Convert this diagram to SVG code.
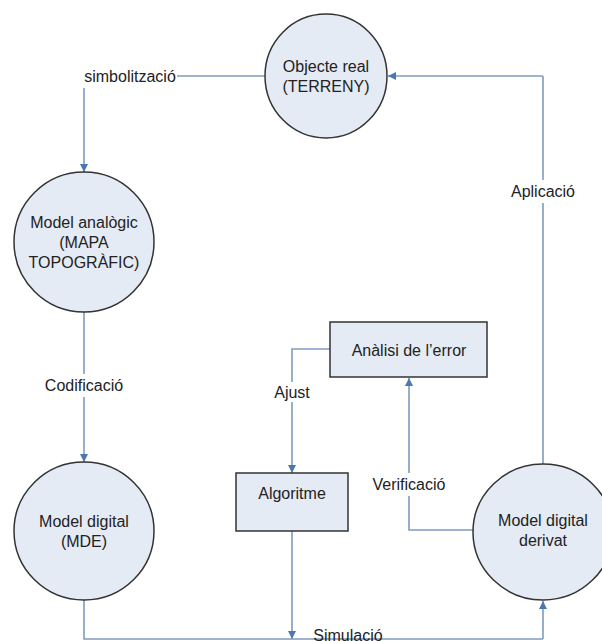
<svg xmlns="http://www.w3.org/2000/svg" width="602" height="641" viewBox="0 0 602 641">
<defs>
<marker id="ah" viewBox="0 0 10 10" refX="10" refY="5" markerWidth="9" markerHeight="8" markerUnits="userSpaceOnUse" orient="auto">
<path d="M0,0 L10,5 L0,10 z" fill="#4a78b0"/>
</marker>
<style>
.node{fill:#e5ebf5;stroke:#333;stroke-width:1.5}
.con{fill:none;stroke:#7f9bbd;stroke-width:1.6}
.arr{fill:none;stroke:#7f9bbd;stroke-width:1.6;marker-end:url(#ah)}
text{font-family:"Liberation Sans",Arial,sans-serif;font-size:16px;fill:#222;text-anchor:middle}
</style>
</defs>
<rect width="602" height="641" fill="#fff"/>
<g id="connectors">
<path class="con" d="M265,76 H177"/>
<path class="arr" d="M84,88 V172"/>
<path class="con" d="M84,312 V374"/>
<path class="arr" d="M84,397 V462"/>
<path class="con" d="M84,600 V639 H543"/>
<path class="arr" d="M543,639 V601"/>
<path class="con" d="M543,464 V203"/>
<path class="con" d="M543,180 V76"/>
<path class="arr" d="M543,76 H388"/>
<path class="con" d="M330,349 H292 V382"/>
<path class="arr" d="M292,402 V473"/>
<path class="arr" d="M292,531 V639"/>
<path class="con" d="M473,530 H409 V496"/>
<path class="arr" d="M409,473 V378"/>
</g>
<g id="labels">
<text x="130" y="82">simbolització</text>
<text x="543" y="197">Aplicació</text>
<text x="84" y="391">Codificació</text>
<text x="292" y="398">Ajust</text>
<text x="409" y="490">Verificació</text>
<text x="348" y="641">Simulació</text>
</g>
<g id="objecte-real">
<ellipse class="node" cx="326" cy="76" rx="61" ry="62"/>
<text x="326" y="72">Objecte real</text>
<text x="326" y="92">(TERRENY)</text>
</g>
<g id="model-analogic">
<ellipse class="node" cx="84" cy="242" rx="70" ry="70"/>
<text x="84" y="228">Model analògic</text>
<text x="84" y="248">(MAPA</text>
<text x="84" y="268">TOPOGRÀFIC)</text>
</g>
<g id="model-digital">
<ellipse class="node" cx="84" cy="531" rx="70" ry="69"/>
<text x="84" y="527">Model digital</text>
<text x="84" y="547">(MDE)</text>
</g>
<g id="model-derivat">
<ellipse class="node" cx="543" cy="532" rx="70" ry="68"/>
<text x="543" y="526">Model digital</text>
<text x="543" y="546">derivat</text>
</g>
<g id="analisi-error">
<rect class="node" x="330" y="322" width="157" height="55"/>
<text x="409" y="356">Anàlisi de l’error</text>
</g>
<g id="algoritme">
<rect class="node" x="236" y="473" width="112" height="58"/>
<text x="292" y="499">Algoritme</text>
</g>
</svg>
